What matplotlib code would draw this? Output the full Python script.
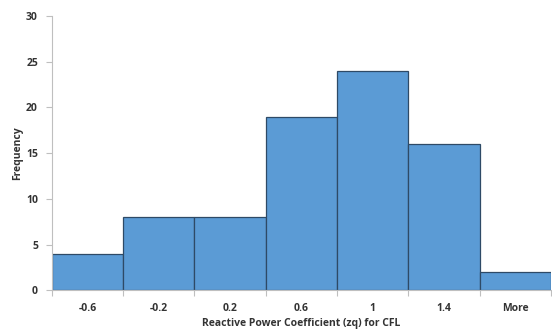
import numpy as np
import matplotlib.pyplot as plt

# Histogram bins and frequencies
bins = ['-0.6', '-0.2', '0.2', '0.6', '1', '1.4', 'More']
freq = [4, 8, 8, 19, 24, 16, 2]

plt.rcParams['font.family'] = ['Open Sans', 'DejaVu Sans']

fig = plt.figure(figsize=(5.52, 3.29), dpi=100)
ax = fig.add_axes([0.094, 0.118, 0.904, 0.833])

x = np.arange(len(bins))
ax.bar(x, freq, width=1.0, color='#5B9BD5', edgecolor='#2E4A66', linewidth=0.9)

ax.set_xlim(-0.5, len(bins) - 0.5)
ax.set_ylim(0, 30)
ax.set_yticks(range(0, 31, 5))

# labels centred under bars, tick marks at bar edges
ax.set_xticks(x)
ax.set_xticklabels(bins, fontsize=7.5, fontweight='bold', color='#333333')
ax.set_xticks(np.arange(-0.5, len(bins)), minor=True)
ax.tick_params(axis='x', which='major', length=0, pad=9)
ax.tick_params(axis='x', which='minor', length=4, color='#BFBFBF', width=0.8)
ax.tick_params(axis='y', length=4, color='#BFBFBF', width=0.8, labelsize=7.5, pad=6)
for lbl in ax.get_yticklabels():
    lbl.set_fontweight('bold')
    lbl.set_color('#333333')

for side in ['top', 'right']:
    ax.spines[side].set_visible(False)
for side in ['left', 'bottom']:
    ax.spines[side].set_color('#BFBFBF')
    ax.spines[side].set_linewidth(0.8)

ax.set_xlabel('Reactive Power Coefficient (zq) for CFL', fontsize=7.5,
              fontweight='bold', color='#333333', va='center')
ax.xaxis.set_label_coords(0.5, -0.12)
ax.set_ylabel('Frequency', fontsize=7.5, fontweight='bold', color='#333333',
              va='center')
ax.yaxis.set_label_coords(-0.068, 0.5)

fig.savefig('out.png', dpi=100)
